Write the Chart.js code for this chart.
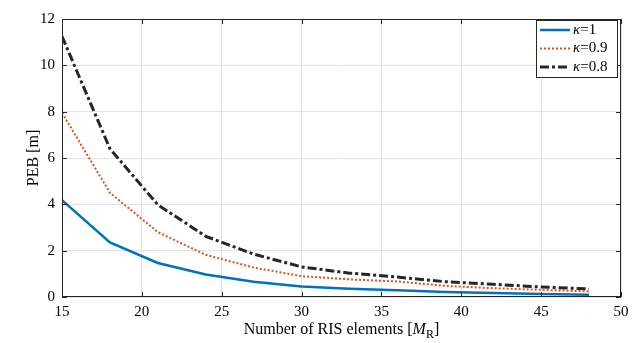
<!DOCTYPE html>
<html>
<head>
<meta charset="utf-8">
<script src="https://cdn.jsdelivr.net/npm/chart.js@4/dist/chart.umd.min.js"></script>
<style>
  html, body { margin: 0; padding: 0; background: #fff; }
  #wrap { width: 636px; height: 343px; position: relative; }
</style>
</head>
<body>
<div id="wrap"><canvas id="chart"></canvas></div>
<script>
const elements = [15, 18, 21, 24, 27, 30, 33, 36, 39, 42, 45, 48];
const pebKappa1 = [4.18, 2.36, 1.47, 0.97, 0.66, 0.45, 0.36, 0.29, 0.22, 0.17, 0.13, 0.10];
const pebKappa09 = [7.95, 4.5, 2.8, 1.82, 1.27, 0.9, 0.76, 0.67, 0.48, 0.38, 0.31, 0.24];
const pebKappa08 = [11.25, 6.4, 3.98, 2.62, 1.85, 1.3, 1.03, 0.86, 0.66, 0.55, 0.43, 0.35];
const seriesNames = ["1", "0.9", "0.8"];
const xTicks = [15, 20, 25, 30, 35, 40, 45, 50];
const yTicks = [0, 2, 4, 6, 8, 10, 12];

const FONT = "'Liberation Serif', 'DejaVu Serif', serif";
const AXIS = "#262626";

function pts(ys) {
    return elements.map(function (x, i) { return { x: x, y: ys[i] }; });
}

// frame, inward ticks on all sides, legend and x title
const decor = {
    id: "decor",
    afterDraw(chart) {
        const c = chart.ctx;
        const a = chart.chartArea;
        const xs = chart.scales.x, ys = chart.scales.y;
        c.save();
        c.strokeStyle = AXIS;
        c.lineWidth = 1;
        c.strokeRect(a.left + 0.5, a.top + 0.5, a.right - a.left - 1, a.bottom - a.top - 1);
        c.beginPath();
        xTicks.forEach(function (t) {
            const px = Math.round(xs.getPixelForValue(t)) + 0.5;
            c.moveTo(px, a.bottom); c.lineTo(px, a.bottom - 5);
            c.moveTo(px, a.top); c.lineTo(px, a.top + 5);
        });
        yTicks.forEach(function (t) {
            const py = Math.round(ys.getPixelForValue(t)) + 0.5;
            c.moveTo(a.left, py); c.lineTo(a.left + 5, py);
            c.moveTo(a.right, py); c.lineTo(a.right - 5, py);
        });
        c.stroke();

        // legend
        const lx = 536, ly = 20, lw = 81, lh = 57;
        c.fillStyle = "#fff";
        c.fillRect(lx, ly, lw, lh);
        c.strokeStyle = AXIS;
        c.strokeRect(lx + 0.5, ly + 0.5, lw, lh);
        chart.data.datasets.forEach(function (ds, i) {
            const yy = ly + 10 + i * 18.5;
            c.strokeStyle = ds.borderColor;
            c.lineWidth = ds.borderWidth;
            c.setLineDash(ds.borderDash || []);
            c.beginPath();
            c.moveTo(lx + 4, yy); c.lineTo(lx + 34, yy);
            c.stroke();
            c.setLineDash([]);
            c.fillStyle = "#000";
            c.textBaseline = "middle";
            c.textAlign = "left";
            c.font = "italic 15px " + FONT;
            c.fillText("\u03BA", lx + 37, yy);
            const kw = c.measureText("\u03BA").width;
            c.font = "15px " + FONT;
            c.fillText("=" + seriesNames[i], lx + 37 + kw, yy);
        });

        // x title with italic M and subscript R
        c.fillStyle = "#000";
        c.textBaseline = "alphabetic";
        c.textAlign = "left";
        const p1 = "Number of RIS elements [";
        c.font = "16px " + FONT;
        const w1 = c.measureText(p1).width;
        c.font = "italic 16px " + FONT;
        const w2 = c.measureText("M").width;
        c.font = "12px " + FONT;
        const w3 = c.measureText("R").width;
        c.font = "16px " + FONT;
        const w4 = c.measureText("]").width;
        let x0 = (a.left + a.right) / 2 - (w1 + w2 + w3 + w4) / 2;
        const by = 334;
        c.font = "16px " + FONT;
        c.fillText(p1, x0, by); x0 += w1;
        c.font = "italic 16px " + FONT;
        c.fillText("M", x0, by); x0 += w2;
        c.font = "12px " + FONT;
        c.fillText("R", x0, by + 4); x0 += w3;
        c.font = "16px " + FONT;
        c.fillText("]", x0, by);
        c.restore();
    }
};

new Chart(document.getElementById("chart").getContext("2d"), {
    type: "line",
    data: {
        datasets: [
            {
                label: "\u03BA=1",
                data: pts(pebKappa1),
                borderColor: "#0072BD",
                borderWidth: 2.5,
                pointRadius: 0,
                tension: 0
            },
            {
                label: "\u03BA=0.9",
                data: pts(pebKappa09),
                borderColor: "#D95319",
                borderWidth: 2,
                borderDash: [2, 2],
                pointRadius: 0,
                tension: 0
            },
            {
                label: "\u03BA=0.8",
                data: pts(pebKappa08),
                borderColor: "#262626",
                borderWidth: 3,
                borderDash: [9, 3, 3, 3],
                pointRadius: 0,
                tension: 0
            }
        ]
    },
    options: {
        responsive: true,
        maintainAspectRatio: false,
        animation: false,
        layout: { padding: { top: 19, right: 15, left: 24, bottom: 0 } },
        plugins: { legend: { display: false }, tooltip: { enabled: false } },
        scales: {
            x: {
                type: "linear",
                min: 15,
                max: 50,
                afterBuildTicks: function (s) { s.ticks = xTicks.map(function (v) { return { value: v }; }); },
                afterFit: function (s) { s.height = 46; },
                grid: { color: "#e3e3e3", drawTicks: false, lineWidth: 1 },
                border: { display: false },
                ticks: { color: "#000", font: { family: FONT, size: 15 }, padding: 6, maxRotation: 0 }
            },
            y: {
                min: 0,
                max: 12,
                afterBuildTicks: function (s) { s.ticks = yTicks.map(function (v) { return { value: v }; }); },
                afterFit: function (s) { s.width = 38; },
                grid: { color: "#e3e3e3", drawTicks: false, lineWidth: 1 },
                border: { display: false },
                ticks: { color: "#000", font: { family: FONT, size: 15 }, padding: 7 },
                title: { display: true, text: "PEB [m]", color: "#000", font: { family: FONT, size: 16 }, padding: { top: 0, bottom: 2 } }
            }
        }
    },
    plugins: [decor]
});
</script>
</body>
</html>
